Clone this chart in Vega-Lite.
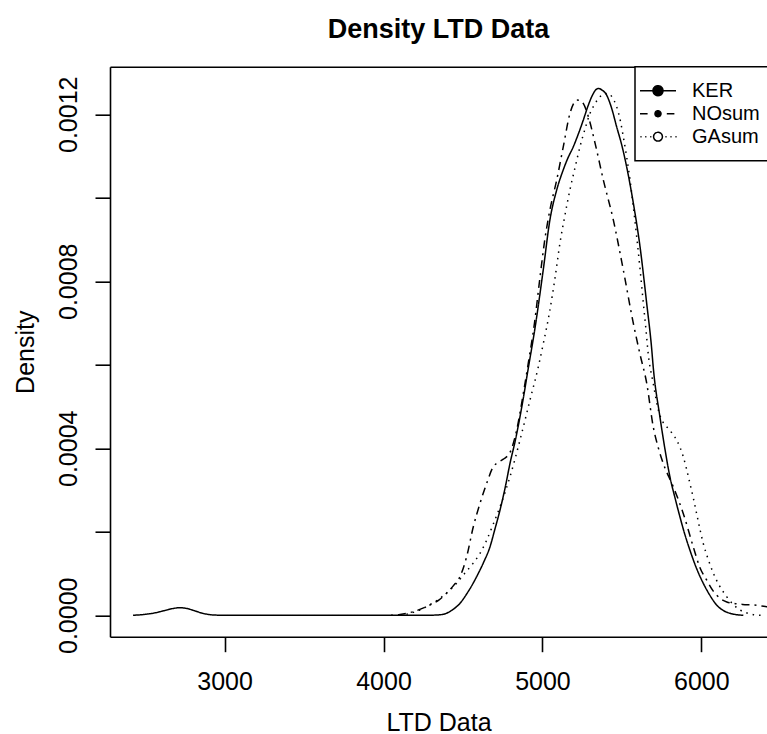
{
  "$schema": "https://vega.github.io/schema/vega-lite/v6.json",
  "width": 657,
  "height": 570,
  "autosize": {"type": "none"},
  "padding": {"left": 110, "top": 66.7, "right": 0, "bottom": 97.3},
  "background": "white",
  "title": {"text": "Density LTD Data", "fontSize": 27, "fontWeight": "bold", "font": "Liberation Sans", "color": "#000", "anchor": "middle", "baseline": "alphabetic", "offset": 1, "frame": "group"},
  "config": {"view": {"stroke": null}, "font": "Liberation Sans"},
  "datasets": {
    "curves": [
      {"series": "KER", "x": 2424, "density": 0},
      {"series": "KER", "x": 2480, "density": 0.0000015},
      {"series": "KER", "x": 2550, "density": 0.000005},
      {"series": "KER", "x": 2620, "density": 0.000011},
      {"series": "KER", "x": 2680, "density": 0.0000165},
      {"series": "KER", "x": 2719, "density": 0.0000182},
      {"series": "KER", "x": 2760, "density": 0.0000165},
      {"series": "KER", "x": 2810, "density": 0.000011},
      {"series": "KER", "x": 2860, "density": 0.000005},
      {"series": "KER", "x": 2910, "density": 0.0000015},
      {"series": "KER", "x": 2960, "density": 0.0000003},
      {"series": "KER", "x": 3100, "density": 0},
      {"series": "KER", "x": 3500, "density": 0},
      {"series": "KER", "x": 4000, "density": 0},
      {"series": "KER", "x": 4250, "density": 0},
      {"series": "KER", "x": 4330, "density": 0.0000005},
      {"series": "KER", "x": 4376, "density": 0.0000024},
      {"series": "KER", "x": 4430, "density": 0.000012},
      {"series": "KER", "x": 4481, "density": 0.0000287},
      {"series": "KER", "x": 4530, "density": 0.000055},
      {"series": "KER", "x": 4586, "density": 0.0000925},
      {"series": "KER", "x": 4630, "density": 0.000127},
      {"series": "KER", "x": 4670, "density": 0.000164},
      {"series": "KER", "x": 4700, "density": 0.000205},
      {"series": "KER", "x": 4733, "density": 0.000252},
      {"series": "KER", "x": 4765, "density": 0.000305},
      {"series": "KER", "x": 4796, "density": 0.000364},
      {"series": "KER", "x": 4830, "density": 0.00042},
      {"series": "KER", "x": 4859, "density": 0.000476},
      {"series": "KER", "x": 4885, "density": 0.000532},
      {"series": "KER", "x": 4911, "density": 0.000592},
      {"series": "KER", "x": 4950, "density": 0.00068},
      {"series": "KER", "x": 5005, "density": 0.000827},
      {"series": "KER", "x": 5047, "density": 0.000947},
      {"series": "KER", "x": 5090, "density": 0.001019},
      {"series": "KER", "x": 5131, "density": 0.001067},
      {"series": "KER", "x": 5160, "density": 0.001095},
      {"series": "KER", "x": 5194, "density": 0.001122},
      {"series": "KER", "x": 5225, "density": 0.001152},
      {"series": "KER", "x": 5257, "density": 0.001186},
      {"series": "KER", "x": 5285, "density": 0.001218},
      {"series": "KER", "x": 5310, "density": 0.001242},
      {"series": "KER", "x": 5330, "density": 0.001256},
      {"series": "KER", "x": 5351, "density": 0.001262},
      {"series": "KER", "x": 5375, "density": 0.001258},
      {"series": "KER", "x": 5404, "density": 0.001246},
      {"series": "KER", "x": 5435, "density": 0.001215},
      {"series": "KER", "x": 5467, "density": 0.00117},
      {"series": "KER", "x": 5500, "density": 0.001125},
      {"series": "KER", "x": 5530, "density": 0.001074},
      {"series": "KER", "x": 5572, "density": 0.000987},
      {"series": "KER", "x": 5614, "density": 0.000883},
      {"series": "KER", "x": 5656, "density": 0.000747},
      {"series": "KER", "x": 5687, "density": 0.00064},
      {"series": "KER", "x": 5697, "density": 0.000595},
      {"series": "KER", "x": 5739, "density": 0.000476},
      {"series": "KER", "x": 5770, "density": 0.0004},
      {"series": "KER", "x": 5802, "density": 0.000332},
      {"series": "KER", "x": 5835, "density": 0.00028},
      {"series": "KER", "x": 5865, "density": 0.000236},
      {"series": "KER", "x": 5895, "density": 0.000195},
      {"series": "KER", "x": 5928, "density": 0.000156},
      {"series": "KER", "x": 5970, "density": 0.000112},
      {"series": "KER", "x": 6012, "density": 0.0000766},
      {"series": "KER", "x": 6055, "density": 0.000047},
      {"series": "KER", "x": 6096, "density": 0.0000247},
      {"series": "KER", "x": 6140, "density": 0.000011},
      {"series": "KER", "x": 6180, "density": 0.0000048},
      {"series": "KER", "x": 6220, "density": 0.0000015},
      {"series": "KER", "x": 6264, "density": 0},
      {"series": "NOsum", "x": 4047, "density": 0},
      {"series": "NOsum", "x": 4104, "density": 0.000002},
      {"series": "NOsum", "x": 4187, "density": 0.0000086},
      {"series": "NOsum", "x": 4292, "density": 0.0000247},
      {"series": "NOsum", "x": 4350, "density": 0.000037},
      {"series": "NOsum", "x": 4397, "density": 0.0000527},
      {"series": "NOsum", "x": 4440, "density": 0.000071},
      {"series": "NOsum", "x": 4481, "density": 0.0000925},
      {"series": "NOsum", "x": 4523, "density": 0.00014},
      {"series": "NOsum", "x": 4565, "density": 0.000212},
      {"series": "NOsum", "x": 4607, "density": 0.000268},
      {"series": "NOsum", "x": 4649, "density": 0.000316},
      {"series": "NOsum", "x": 4691, "density": 0.000356},
      {"series": "NOsum", "x": 4720, "density": 0.000366},
      {"series": "NOsum", "x": 4754, "density": 0.000374},
      {"series": "NOsum", "x": 4796, "density": 0.00039},
      {"series": "NOsum", "x": 4838, "density": 0.000444},
      {"series": "NOsum", "x": 4880, "density": 0.000532},
      {"series": "NOsum", "x": 4911, "density": 0.000604},
      {"series": "NOsum", "x": 4950, "density": 0.0007},
      {"series": "NOsum", "x": 4985, "density": 0.000811},
      {"series": "NOsum", "x": 5015, "density": 0.0009},
      {"series": "NOsum", "x": 5047, "density": 0.000971},
      {"series": "NOsum", "x": 5090, "density": 0.001043},
      {"series": "NOsum", "x": 5131, "density": 0.001122},
      {"series": "NOsum", "x": 5173, "density": 0.001202},
      {"series": "NOsum", "x": 5195, "density": 0.001225},
      {"series": "NOsum", "x": 5215, "density": 0.001234},
      {"series": "NOsum", "x": 5237, "density": 0.001233},
      {"series": "NOsum", "x": 5257, "density": 0.001226},
      {"series": "NOsum", "x": 5289, "density": 0.001194},
      {"series": "NOsum", "x": 5331, "density": 0.001131},
      {"series": "NOsum", "x": 5383, "density": 0.001043},
      {"series": "NOsum", "x": 5446, "density": 0.000947},
      {"series": "NOsum", "x": 5509, "density": 0.000827},
      {"series": "NOsum", "x": 5572, "density": 0.000699},
      {"series": "NOsum", "x": 5614, "density": 0.000625},
      {"series": "NOsum", "x": 5656, "density": 0.000556},
      {"series": "NOsum", "x": 5697, "density": 0.000452},
      {"series": "NOsum", "x": 5730, "density": 0.0004},
      {"series": "NOsum", "x": 5760, "density": 0.000364},
      {"series": "NOsum", "x": 5823, "density": 0.000308},
      {"series": "NOsum", "x": 5886, "density": 0.000244},
      {"series": "NOsum", "x": 5949, "density": 0.000164},
      {"series": "NOsum", "x": 5990, "density": 0.000115},
      {"series": "NOsum", "x": 6033, "density": 0.0000846},
      {"series": "NOsum", "x": 6075, "density": 0.000058},
      {"series": "NOsum", "x": 6117, "density": 0.0000407},
      {"series": "NOsum", "x": 6160, "density": 0.000032},
      {"series": "NOsum", "x": 6201, "density": 0.0000287},
      {"series": "NOsum", "x": 6260, "density": 0.000026},
      {"series": "NOsum", "x": 6327, "density": 0.0000247},
      {"series": "NOsum", "x": 6411, "density": 0.0000206},
      {"series": "NOsum", "x": 6500, "density": 0.000015},
      {"series": "GAsum", "x": 4104, "density": 0},
      {"series": "GAsum", "x": 4160, "density": 0.000004},
      {"series": "GAsum", "x": 4229, "density": 0.0000127},
      {"series": "GAsum", "x": 4290, "density": 0.000025},
      {"series": "GAsum", "x": 4355, "density": 0.0000407},
      {"series": "GAsum", "x": 4410, "density": 0.000058},
      {"series": "GAsum", "x": 4460, "density": 0.0000766},
      {"series": "GAsum", "x": 4510, "density": 0.0001},
      {"series": "GAsum", "x": 4565, "density": 0.000125},
      {"series": "GAsum", "x": 4610, "density": 0.00015},
      {"series": "GAsum", "x": 4649, "density": 0.00018},
      {"series": "GAsum", "x": 4690, "density": 0.000218},
      {"series": "GAsum", "x": 4733, "density": 0.00026},
      {"series": "GAsum", "x": 4796, "density": 0.000332},
      {"series": "GAsum", "x": 4859, "density": 0.00042},
      {"series": "GAsum", "x": 4922, "density": 0.000516},
      {"series": "GAsum", "x": 4974, "density": 0.000595},
      {"series": "GAsum", "x": 5005, "density": 0.00065},
      {"series": "GAsum", "x": 5047, "density": 0.000731},
      {"series": "GAsum", "x": 5080, "density": 0.00081},
      {"series": "GAsum", "x": 5110, "density": 0.000891},
      {"series": "GAsum", "x": 5140, "density": 0.000955},
      {"series": "GAsum", "x": 5173, "density": 0.001019},
      {"series": "GAsum", "x": 5205, "density": 0.001072},
      {"series": "GAsum", "x": 5236, "density": 0.001122},
      {"series": "GAsum", "x": 5268, "density": 0.001165},
      {"series": "GAsum", "x": 5299, "density": 0.001202},
      {"series": "GAsum", "x": 5330, "density": 0.001225},
      {"series": "GAsum", "x": 5362, "density": 0.001242},
      {"series": "GAsum", "x": 5390, "density": 0.00125},
      {"series": "GAsum", "x": 5414, "density": 0.00125},
      {"series": "GAsum", "x": 5440, "density": 0.00124},
      {"series": "GAsum", "x": 5467, "density": 0.001218},
      {"series": "GAsum", "x": 5490, "density": 0.001185},
      {"series": "GAsum", "x": 5509, "density": 0.001146},
      {"series": "GAsum", "x": 5530, "density": 0.001098},
      {"series": "GAsum", "x": 5551, "density": 0.001043},
      {"series": "GAsum", "x": 5572, "density": 0.000978},
      {"series": "GAsum", "x": 5593, "density": 0.000907},
      {"series": "GAsum", "x": 5614, "density": 0.00083},
      {"series": "GAsum", "x": 5635, "density": 0.000747},
      {"series": "GAsum", "x": 5650, "density": 0.00069},
      {"series": "GAsum", "x": 5666, "density": 0.000625},
      {"series": "GAsum", "x": 5697, "density": 0.000556},
      {"series": "GAsum", "x": 5729, "density": 0.000492},
      {"series": "GAsum", "x": 5755, "density": 0.000465},
      {"series": "GAsum", "x": 5781, "density": 0.000452},
      {"series": "GAsum", "x": 5812, "density": 0.000438},
      {"series": "GAsum", "x": 5844, "density": 0.00042},
      {"series": "GAsum", "x": 5866, "density": 0.000402},
      {"series": "GAsum", "x": 5886, "density": 0.00038},
      {"series": "GAsum", "x": 5907, "density": 0.00035},
      {"series": "GAsum", "x": 5928, "density": 0.000316},
      {"series": "GAsum", "x": 5950, "density": 0.00028},
      {"series": "GAsum", "x": 5970, "density": 0.000244},
      {"series": "GAsum", "x": 5990, "density": 0.000208},
      {"series": "GAsum", "x": 6012, "density": 0.000172},
      {"series": "GAsum", "x": 6045, "density": 0.000132},
      {"series": "GAsum", "x": 6075, "density": 0.000101},
      {"series": "GAsum", "x": 6115, "density": 0.00007},
      {"series": "GAsum", "x": 6159, "density": 0.0000446},
      {"series": "GAsum", "x": 6200, "density": 0.000026},
      {"series": "GAsum", "x": 6243, "density": 0.0000127},
      {"series": "GAsum", "x": 6300, "density": 0.000004},
      {"series": "GAsum", "x": 6348, "density": 0.0000007},
      {"series": "GAsum", "x": 6400, "density": 0}
    ]
  },
  "layer": [
    {
      "mark": {"type": "rule", "color": "#bebebe", "strokeWidth": 1.2},
      "encoding": {
        "x": {"datum": 2279, "type": "quantitative", "scale": {"domain": [2279, 6413], "nice": false, "zero": false},
              "axis": {"orient": "top", "labels": false, "ticks": false, "title": null, "grid": false, "domain": true, "domainColor": "#000", "domainWidth": 1.6}},
        "x2": {"datum": 6413},
        "y": {"datum": 0, "type": "quantitative",
              "scale": {"domain": [-0.0000513, 0.001314], "nice": false, "zero": false},
              "axis": {"orient": "left", "values": [0, 0.0002, 0.0004, 0.0006, 0.0008, 0.001, 0.0012], "grid": false, "domain": true, "domainColor": "#000", "domainWidth": 1.6,
                       "ticks": true, "tickSize": 15, "tickWidth": 1.6, "tickColor": "#000",
                       "labelExpr": "round(datum.value * 10000) % 4 == 0 ? format(datum.value, '.4f') : ''",
                       "labelAngle": -90, "labelAlign": "center", "labelBaseline": "alphabetic",
                       "labelFontSize": 25, "labelFont": "Liberation Sans", "labelColor": "#000", "labelPadding": 19, "labelFlush": false, "labelOverlap": false,
                       "title": "Density", "titleFontSize": 25, "titleFont": "Liberation Sans", "titleFontWeight": "normal", "titleColor": "#000",
                       "titleAngle": -90, "titleX": -77, "titleY": 285, "titleAlign": "center", "titleBaseline": "alphabetic"}}
      }
    },
    {
      "data": {"name": "curves"},
      "mark": {"type": "line", "strokeWidth": 1.5, "interpolate": "monotone", "clip": true},
      "encoding": {
        "x": {"field": "x", "type": "quantitative",
              "scale": {"domain": [2279, 6413], "nice": false, "zero": false},
              "axis": {"orient": "bottom", "values": [3000, 4000, 5000, 6000], "format": "d", "grid": false, "domain": true, "domainColor": "#000", "domainWidth": 1.6,
                       "ticks": true, "tickSize": 15, "tickWidth": 1.6, "tickColor": "#000",
                       "labelFontSize": 25, "labelFont": "Liberation Sans", "labelColor": "#000", "labelPadding": 18, "labelFlush": false, "labelOverlap": false,
                       "title": "LTD Data", "titleFontSize": 25, "titleFont": "Liberation Sans", "titleFontWeight": "normal", "titleColor": "#000",
                       "titleX": 328.5, "titleY": 93.3, "titleAlign": "center", "titleBaseline": "alphabetic", "titleAnchor": null}},
        "y": {"field": "density", "type": "quantitative",
              "scale": {"domain": [-0.0000513, 0.001314], "nice": false, "zero": false},
              "axis": {"orient": "left", "values": [0, 0.0002, 0.0004, 0.0006, 0.0008, 0.001, 0.0012], "grid": false, "domain": true, "domainColor": "#000", "domainWidth": 1.6,
                       "ticks": true, "tickSize": 15, "tickWidth": 1.6, "tickColor": "#000",
                       "labelExpr": "round(datum.value * 10000) % 4 == 0 ? format(datum.value, '.4f') : ''",
                       "labelAngle": -90, "labelAlign": "center", "labelBaseline": "alphabetic",
                       "labelFontSize": 25, "labelFont": "Liberation Sans", "labelColor": "#000", "labelPadding": 19, "labelFlush": false, "labelOverlap": false,
                       "title": "Density", "titleFontSize": 25, "titleFont": "Liberation Sans", "titleFontWeight": "normal", "titleColor": "#000",
                       "titleAngle": -90, "titleX": -77, "titleY": 285, "titleAlign": "center", "titleBaseline": "alphabetic"}},
        "strokeDash": {"field": "series", "type": "nominal",
                       "scale": {"domain": ["KER", "NOsum", "GAsum"], "range": [[1, 0], [2, 5, 8, 5], [1.5, 5]]},
                       "legend": null},
        "color": {"field": "series", "type": "nominal", "sort": ["KER", "NOsum", "GAsum"],
                  "scale": {"range": ["#000", "#000", "#000"]},
                  "legend": {"title": null, "orient": "none", "legendX": 525, "legendY": 0, "padding": 14,
                             "strokeColor": "#000", "fillColor": "#fff", "cornerRadius": 0,
                             "labelFontSize": 20, "labelFont": "Liberation Sans", "labelColor": "#000",
                             "symbolSize": 64, "symbolStrokeWidth": 1.5, "symbolDash": [1, 0],
                             "symbolOffset": -1, "labelOffset": 24, "rowPadding": 3,
                             "encode": {
                               "symbols": {"update": {
                                 "shape": {"signal": "datum.value === 'KER' ? 'M-4.5,0H4.5M-1.25,0A1.25,1.25,0,1,1,1.25,0A1.25,1.25,0,1,1,-1.25,0Z' : datum.value === 'NOsum' ? 'M-4.5,0H-2.6M2.2,0H4.1M-0.75,0A0.75,0.75,0,1,1,0.75,0A0.75,0.75,0,1,1,-0.75,0Z' : 'M-4.4,0H-4.1M-3.2,0H-2.9M-1.95,0H-1.65M1.85,0H2.15M3.1,0H3.4M4.35,0H4.65M-1.1,0A1.1,1.1,0,1,1,1.1,0A1.1,1.1,0,1,1,-1.1,0Z'"},
                                 "fill": {"signal": "datum.value === 'GAsum' ? '#fff' : '#000'"},
                                 "stroke": {"value": "#000"},
                                 "strokeDash": {"signal": "[1, 0]"},
                                 "strokeWidth": {"value": 1.5},
                                 "opacity": {"value": 1}
                               }},
                               "legend": {"update": {"strokeWidth": {"value": 1.5}}}
                             }}}
      }
    }
  ],
  "resolve": {"axis": {"x": "independent"}}
}
